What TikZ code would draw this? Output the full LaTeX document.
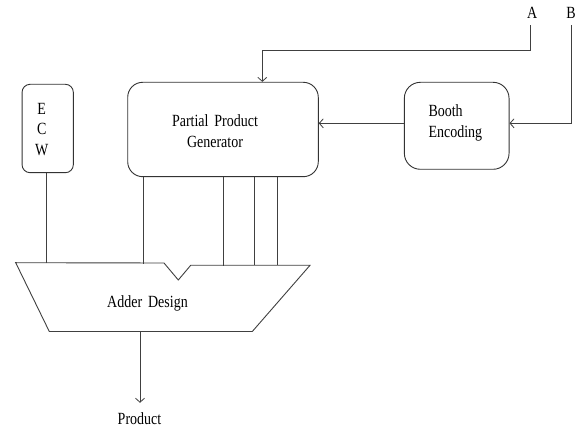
\documentclass[tikz,border=0pt]{standalone}
\usepackage{fontspec}
\usepackage{graphicx}
\setmainfont{Liberation Serif}
\usetikzlibrary{arrows.meta}

% slightly tall lettering used for all labels
\newcommand\tallText[1]{\scalebox{1}[1.22]{#1}}

\begin{document}
\begin{tikzpicture}[x=1pt,y=-1pt,
    wire/.style={draw=black!75,line width=0.9pt},
    arr/.style={wire,-{Straight Barb[length=4pt,width=9pt,line width=0.8pt]}},
    block/.style={draw=black!80,line width=0.9pt,rectangle,inner sep=0pt},
    lbl/.style={font=\fontsize{14}{20.5}\selectfont,inner sep=0pt,text=black}]

  \useasboundingbox[fill=white] (0,0) rectangle (579,430);

  % functional blocks
  \node[block,rounded corners=8pt,minimum width=51.3pt,minimum height=88.4pt]
    (ecw) at (47.7,128.5) {};
  \node[block,rounded corners=15pt,minimum width=190.6pt,minimum height=94.4pt]
    (ppg) at (223,129.5) {};
  \node[block,rounded corners=16pt,minimum width=104.7pt,minimum height=87pt]
    (booth) at (456.7,125.8) {};

  % block captions
  \node[lbl,align=center] (ecwtext) at (41.7,129.5)
    {\tallText{E}\\\tallText{C}\\\tallText{W}};
  \node[lbl,align=center] (ppgtext) at (215,131)
    {\tallText{Partial\hspace{0.42em}Product}\\\tallText{Generator}};
  \node[lbl,align=left,anchor=west] (boothtext) at (428.3,122.8)
    {\tallText{Booth}\\\tallText{Encoding}};

  % inputs
  \node[lbl] (A) at (532.3,13.3) {\tallText{A}};
  \node[lbl] (B) at (571,13.3) {\tallText{B}};
  \coordinate (aturn) at (530.3,50.3);
  \coordinate (aknee) at (262.3,50.3);
  \coordinate (bturn) at (571.7,123.3);

  \draw[arr] ([yshift=-12pt]A.center -| aturn) -- (aturn) -- (aknee) -- (aknee |- ppg.north);
  \draw[arr] ([yshift=-12pt]B.center -| bturn) -- (bturn) -- (bturn -| booth.east);
  \draw[arr] (booth.west |- bturn) -- (bturn -| ppg.east);

  % adder outline with its notch
  \coordinate (tl) at (15.7,262.7);
  \coordinate (n1) at (164,263);
  \coordinate (nb) at (178.3,280);
  \coordinate (n2) at (190.7,265.3);
  \coordinate (tr) at (310,265.3);
  \coordinate (br) at (252.3,331.5);
  \coordinate (bl) at (49.3,331.5);
  \draw[wire,line join=miter] (tl) -- (n1) -- (nb) -- (n2) -- (tr) -- (br) -- (bl) -- cycle;
  \node[lbl] (adder) at (147.5,303.3) {\tallText{Adder\hspace{0.42em}Design}};

  % adder inputs
  \coordinate (i0) at (46.7,262.7);
  \coordinate (i1) at (143.3,264.3);
  \coordinate (i2) at (223.7,265.7);
  \coordinate (i3) at (254,265.3);
  \coordinate (i4) at (277.3,265.3);
  \draw[wire] (ecw.south -| i0) -- (i0);
  \foreach \p in {i1,i2,i3,i4}
    \draw[wire] (ppg.south -| \p) -- (\p);

  % result
  \coordinate (out) at (140,331.5);
  \node[lbl] (product) at (139.5,419) {\tallText{Product}};
  \draw[arr] (out) -- ([yshift=10pt]product.north -| out);
\end{tikzpicture}
\end{document}
